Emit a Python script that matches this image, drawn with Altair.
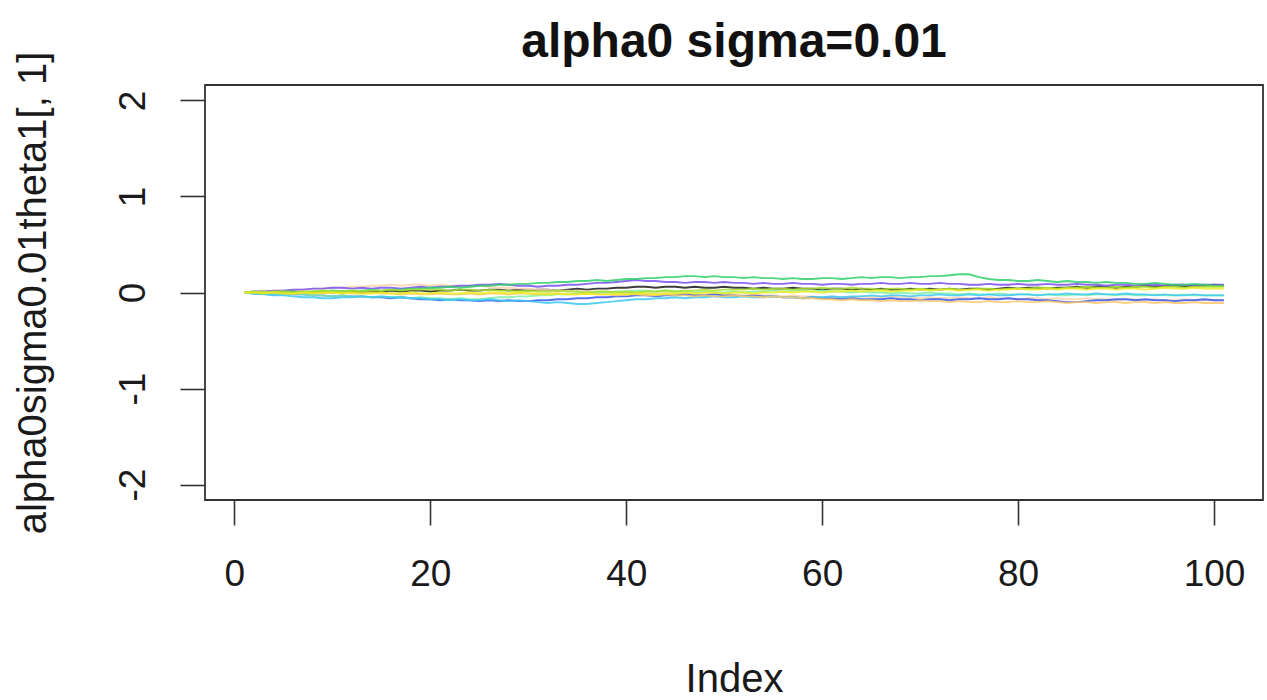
import altair as alt
import pandas as pd

# Index positions shared by every trace
index = list(range(1, 102))

# Trace values, in hundredths
black = [0, 0, -1, 0, 0, 1, 0, 0, 1, 0,
         1, 1, 0, 1, 1, 2, 1, 2, 2, 1,
         2, 2, 3, 2, 2, 3, 3, 2, 3, 2,
         3, 3, 2, 3, 4, 3, 4, 4, 5, 5,
         6, 6, 5, 6, 6, 5, 6, 5, 5, 6,
         5, 5, 4, 5, 4, 4, 5, 4, 4, 3,
         4, 4, 3, 4, 3, 4, 3, 3, 4, 3,
         4, 3, 4, 3, 4, 4, 3, 4, 5, 4,
         5, 5, 4, 5, 5, 6, 5, 6, 6, 5,
         6, 6, 7, 6, 7, 7, 6, 7, 7, 8,
         7]
peach = [0, 1, 1, 2, 2, 3, 3, 4, 4, 5,
         5, 6, 6, 7, 7, 8, 7, 8, 8, 7,
         8, 7, 7, 6, 7, 6, 5, 5, 4, 4,
         3, 3, 2, 2, 1, 1, 0, 1, 0, -1,
         0, -1, -1, 0, -1, -1, -2, -2, -1, -2,
         -2, -3, -2, -3, -3, -4, -3, -4, -4, -5,
         -4, -5, -5, -4, -5, -5, -4, -5, -5, -6,
         -5, -6, -6, -5, -6, -6, -5, -6, -6, -7,
         -6, -6, -7, -6, -7, -7, -6, -7, -7, -8,
         -7, -7, -8, -7, -8, -8, -7, -8, -8, -8,
         -8]
blue = [0, -1, -1, -2, -1, -2, -2, -3, -3, -4,
        -3, -4, -4, -5, -5, -6, -5, -6, -7, -7,
        -8, -7, -8, -8, -9, -8, -9, -8, -9, -9,
        -8, -8, -7, -7, -6, -6, -5, -5, -4, -4,
        -3, -3, -4, -3, -3, -2, -3, -3, -2, -3,
        -3, -4, -3, -4, -4, -5, -5, -6, -5, -6,
        -6, -7, -6, -7, -7, -7, -6, -7, -7, -8,
        -7, -7, -8, -7, -7, -6, -7, -7, -6, -7,
        -7, -8, -8, -9, -10, -10, -9, -8, -8, -7,
        -7, -8, -7, -8, -8, -9, -8, -8, -7, -8,
        -8]
purple = [0, 1, 1, 2, 2, 3, 3, 4, 4, 5,
          5, 4, 5, 4, 5, 5, 4, 5, 6, 5,
          6, 6, 7, 7, 8, 8, 9, 8, 7, 7,
          6, 7, 7, 8, 8, 9, 10, 10, 11, 12,
          13, 12, 12, 11, 11, 10, 11, 11, 10, 11,
          10, 10, 9, 10, 9, 9, 10, 9, 9, 8,
          9, 9, 8, 9, 9, 10, 9, 9, 10, 9,
          9, 10, 9, 9, 8, 8, 9, 8, 8, 9,
          8, 8, 9, 8, 8, 9, 8, 8, 7, 8,
          8, 7, 8, 8, 7, 8, 8, 7, 8, 8,
          8]
green = [0, 0, 1, 0, 1, 1, 0, 1, 1, 2,
         1, 2, 2, 3, 2, 3, 3, 4, 4, 5,
         5, 6, 5, 6, 7, 7, 8, 8, 9, 9,
         10, 10, 11, 11, 12, 12, 13, 12, 13, 14,
         14, 15, 15, 16, 16, 17, 17, 16, 17, 16,
         16, 15, 16, 15, 15, 14, 15, 14, 14, 15,
         15, 14, 15, 16, 15, 16, 16, 15, 16, 16,
         17, 17, 18, 19, 19, 16, 14, 13, 13, 12,
         12, 13, 12, 11, 12, 11, 11, 10, 11, 10,
         10, 9, 9, 10, 9, 8, 8, 9, 8, 7,
         7]
mint = [0, -1, -1, -2, -2, -1, -2, -3, -3, -4,
        -3, -4, -4, -5, -4, -5, -5, -6, -5, -6,
        -6, -7, -6, -7, -7, -6, -5, -5, -4, -4,
        -3, -3, -2, -2, -1, -1, 0, 0, 1, 1,
        2, 2, 1, 2, 1, 1, 0, 1, 0, 0,
        1, 0, 1, 1, 2, 1, 2, 2, 1, 2,
        1, 1, 0, 1, 0, 0, -1, 0, -1, -1,
        0, -1, -1, -2, -1, -2, -2, -1, -2, -2,
        -2, -3, -2, -3, -3, -2, -3, -2, -2, -3,
        -2, -3, -3, -2, -3, -3, -2, -3, -3, -3,
        -3]
cyan = [0, -1, -2, -3, -3, -4, -5, -5, -6, -6,
        -5, -5, -4, -5, -4, -5, -5, -6, -6, -7,
        -7, -8, -7, -8, -8, -7, -8, -9, -8, -9,
        -10, -11, -10, -11, -12, -12, -11, -10, -9, -8,
        -7, -7, -6, -6, -5, -6, -5, -5, -4, -5,
        -5, -4, -5, -5, -4, -5, -5, -6, -5, -5,
        -4, -5, -4, -4, -3, -4, -3, -3, -4, -3,
        -3, -2, -3, -3, -2, -3, -2, -3, -3, -2,
        -2, -3, -2, -2, -1, -2, -2, -1, -2, -2,
        -1, -2, -2, -3, -2, -3, -3, -2, -3, -3,
        -3]
orange = [0, 0, 1, 0, 0, -1, 0, 0, -1, 0,
          0, -1, -1, 0, -1, -1, -2, -1, -2, -2,
          -1, -2, -2, -1, -2, -1, -1, -2, -1, -1,
          -2, -1, -1, -2, -2, -1, -2, -2, -3, -2,
          -2, -3, -3, -2, -3, -3, -4, -3, -4, -4,
          -3, -4, -4, -5, -4, -5, -5, -6, -6, -7,
          -7, -8, -7, -8, -8, -9, -8, -9, -9, -8,
          -9, -9, -10, -9, -10, -10, -9, -10, -10, -9,
          -10, -10, -9, -10, -11, -10, -10, -11, -10, -10,
          -11, -10, -10, -11, -10, -11, -11, -10, -11, -11,
          -11]
lime = [0, 1, 0, 1, 1, 0, 1, 1, 2, 1,
        1, 2, 1, 2, 2, 3, 2, 3, 3, 3,
        3, 2, 3, 3, 2, 3, 2, 2, 1, 2,
        1, 1, 2, 1, 1, 0, 1, 1, 0, 1,
        0, 1, 1, 2, 1, 2, 2, 3, 2, 3,
        3, 3, 4, 3, 4, 4, 3, 4, 4, 5,
        4, 4, 5, 4, 4, 3, 4, 4, 3, 4,
        3, 3, 4, 3, 3, 4, 4, 3, 4, 4,
        4, 5, 5, 4, 5, 5, 6, 5, 5, 6,
        5, 6, 6, 5, 6, 6, 5, 6, 6, 6,
        6]
yellow = [0, 0, -1, 0, -1, -1, 0, -1, 0, 0,
          -1, 0, -1, -1, 0, -1, -1, 0, -1, -1,
          0, -1, -1, 0, -1, 0, 0, -1, 0, -1,
          -1, -2, -1, -2, -2, -1, -2, -2, -1, -2,
          -1, -1, -2, -1, -1, 0, -1, 0, 0, -1,
          0, 0, -1, 0, 0, 1, 0, 1, 1, 0,
          1, 1, 2, 1, 2, 2, 1, 2, 2, 3,
          2, 3, 3, 2, 3, 3, 2, 3, 3, 4,
          3, 3, 4, 3, 4, 4, 3, 4, 4, 3,
          4, 4, 3, 4, 5, 4, 4, 5, 4, 4,
          4]

series_names = ["black", "peach", "blue", "purple", "green",
                "mint", "cyan", "orange", "lime", "yellow"]
series_values = [black, peach, blue, purple, green,
                 mint, cyan, orange, lime, yellow]
series_colors = ["#1a1a1a", "#f7d2ad", "#3a55f0", "#7a50f0", "#2fcf6a",
                 "#7cf0a8", "#3cc8f5", "#f9c86a", "#a8e02a", "#ecec1e"]

rows = []
for order, (name, vals) in enumerate(zip(series_names, series_values)):
    for i, v in zip(index, vals):
        rows.append({"Index": i, "value": v / 100.0, "series": name, "k": order})
df = pd.DataFrame(rows)

FONT = "Liberation Sans"
# plain hyphen for negative tick labels
PLAIN = "'' + datum.value"

chart = alt.Chart(df).mark_line(strokeWidth=1.9, opacity=0.85).encode(
    x=alt.X(
        "Index:Q",
        scale=alt.Scale(domain=[-3, 105], nice=False, zero=False),
        axis=alt.Axis(
            values=[0, 20, 40, 60, 80, 100], title="Index", grid=False,
            domain=False, tickSize=25, tickWidth=1.6, tickColor="#333333",
            labelFontSize=37, labelFont=FONT, labelColor="#1a1a1a",
            labelPadding=31, labelAngle=0, labelFlush=False,
            labelExpr=PLAIN,
            titleFontSize=40, titleFont=FONT, titleFontWeight="normal",
            titleColor="#1a1a1a", titleBaseline="alphabetic", titleY=191,
        ),
    ),
    y=alt.Y(
        "value:Q",
        scale=alt.Scale(domain=[-2.16, 2.16], nice=False, zero=False),
        axis=alt.Axis(
            values=[-2, -1, 0, 1, 2], title="alpha0sigma0.01theta1[, 1]",
            grid=False, domain=False, tickSize=25, tickWidth=1.6,
            tickColor="#333333", labelFontSize=37, labelFont=FONT,
            labelColor="#1a1a1a", labelAngle=270, labelAlign="center",
            labelBaseline="alphabetic", labelPadding=36, labelFlush=False,
            labelExpr=PLAIN,
            titleFontSize=40, titleFont=FONT, titleFontWeight="normal",
            titleColor="#1a1a1a", titleAngle=270, titleAlign="center",
            titleBaseline="alphabetic", titleX=-160, titleY=207.5,
        ),
    ),
    color=alt.Color("series:N",
                    scale=alt.Scale(domain=series_names, range=series_colors),
                    legend=None),
    order=alt.Order("k:Q"),
).properties(
    width=1058,
    height=415,
    background="white",
    title=alt.TitleParams(
        "alpha0 sigma=0.01", fontSize=48, font=FONT, fontWeight="bold",
        color="#111111", anchor="middle", offset=18, dy=34,
    ),
    autosize=alt.AutoSizeParams(type="none"),
    padding={"left": 205, "top": 85, "right": 4, "bottom": 200},
).configure_view(
    stroke="#333333", strokeWidth=1.8
)

chart.save("out.html", embed_options={"renderer": "svg", "actions": False})
